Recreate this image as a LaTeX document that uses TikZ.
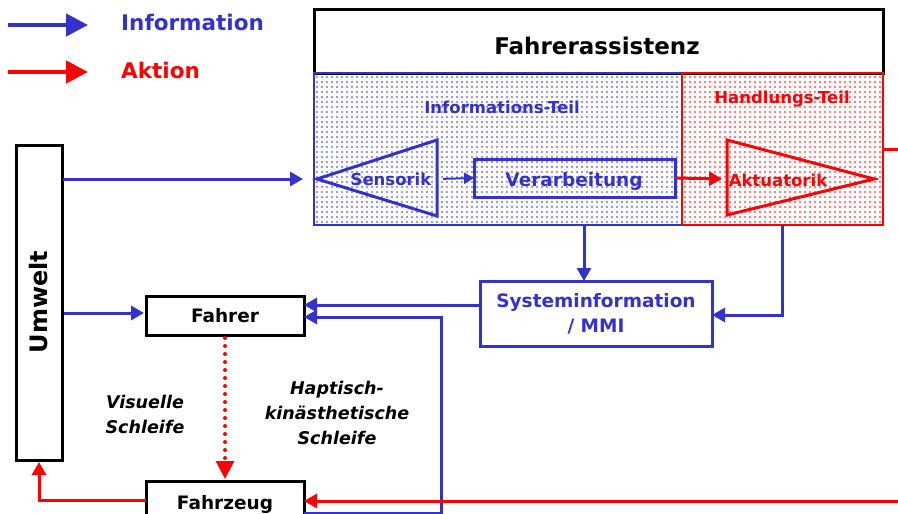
\documentclass[tikz,border=0pt]{standalone}
\usepackage{fontspec}
\setmainfont{DejaVu Sans}
\usetikzlibrary{arrows.meta,calc}
\definecolor{cblue}{RGB}{51,51,204}
\definecolor{cred}{RGB}{255,0,0}
\begin{document}
\begin{tikzpicture}[x=1pt,y=-1pt,
  box/.style={draw=black, line width=3pt, inner sep=0pt, outer sep=0pt, align=center,
    font=\fontsize{18.5}{25}\selectfont\bfseries},
  bluebox/.style={box, draw=cblue, text=cblue},
  part/.style={line width=2pt, inner sep=0pt, outer sep=0pt, anchor=north west},
  tri/.style={line width=3pt, line join=miter},
  infoarrow/.style={draw=cblue, line width=3pt, -{Triangle[length=13pt,width=14pt]}},
  actarrow/.style={draw=cred, line width=3pt, -{Triangle[length=13pt,width=14pt]}},
  actline/.style={draw=cred, line width=3pt},
  legarrow/.style={line width=4.5pt, -{Triangle[length=22pt,width=22pt]}},
  lbl/.style={inner sep=0pt, font=\fontsize{#1}{25}\selectfont\bfseries},
  ital/.style={inner sep=0pt, align=center, font=\fontsize{17.5}{25}\selectfont\bfseries\itshape}
]
\useasboundingbox (0,0) rectangle (898,514);
\clip (0,0) rectangle (898,514);
\fill[white] (0,0) rectangle (898,514);

% legend
\coordinate (lb1) at (8,25);
\coordinate (lb2) at (88,25);
\coordinate (lr1) at (8,72);
\coordinate (lr2) at (88,72);
\draw[legarrow, draw=cblue, fill=cblue] (lb1) -- (lb2);
\draw[legarrow, draw=cred, fill=cred] (lr1) -- (lr2);
\node[lbl=21.5, text=cblue, anchor=west] (legi) at (121,22) {Information};
\node[lbl=21.5, text=cred, anchor=west] (lega) at (121,70) {Aktion};

% dotted fills
\foreach \x in {317,322,...,680} \foreach \y in {77,82,...,223}
  \fill[cblue] (\x,\y) circle (0.85pt);
\foreach \x in {685,690,...,881} \foreach \y in {77,82,...,223}
  \fill[cred] (\x,\y) circle (0.85pt);

% Fahrerassistenz
\node[box, minimum width=569pt, minimum height=64pt] (assist) at (598.5,41) {};
\node[lbl=23] (assistlbl) at (597,46) {Fahrerassistenz};
\node[part, draw=cblue, minimum width=368pt, minimum height=152pt] (info) at (314,73) {};
\node[part, draw=cred, minimum width=201pt, minimum height=152pt] (hand) at (682,73) {};
\node[lbl=16.5, text=cblue] (infolbl) at (502,107) {Informations-Teil};
\node[lbl=16.5, text=cred] (handlbl) at (782,99) {Handlungs-Teil};

% Sensorik
\coordinate (sensA) at (317,179);
\coordinate (sensR) at (437,179);
\draw[tri, draw=cblue] (sensA) -- (437,140) -- (437,216) -- cycle;
\node[lbl=16.5, text=cblue] (sens) at (391,179) {Sensorik};

% Verarbeitung
\node[bluebox, minimum width=201pt, minimum height=38pt] (verarb) at (574.5,178) {};
\node[lbl=18.5, text=cblue] (verarblbl) at (574,181) {Verarbeitung};

% Aktuatorik
\coordinate (aktL) at (727,179);
\draw[tri, draw=cred] (727,140) -- (874,179) -- (727,215) -- cycle;
\node[lbl=16.5, text=cred] (akt) at (778,180) {Aktuatorik};

\draw[draw=cblue, line width=2pt, -{Triangle[length=10pt,width=11pt]}, shorten <=6pt] (sensR) -- (verarb.west);
\draw[actarrow, shorten >=5pt] (verarb.east) -- (aktL);

% Umwelt
\node[box, minimum width=46pt, minimum height=315pt] (umwelt) at (39,302.5) {};
\node[lbl=24, rotate=90] (umweltlbl) at (39,302) {Umwelt};

% Fahrer, Fahrzeug, Systeminfo
\node[box, minimum width=158pt, minimum height=39pt] (fahrer) at (225,315.5) {Fahrer};
\node[box, minimum width=158pt, minimum height=42pt] (fahrzeug) at (225,502) {};
\node[lbl=18.5] (fahrzeuglbl) at (225,504) {Fahrzeug};
\node[bluebox, minimum width=232pt, minimum height=65pt] (sys) at (596,313.5) {Systeminformation\\/ MMI};

\node[ital] (visu) at (145,414) {Visuelle\\Schleife};
\node[ital] (hapt) at (337,413) {Haptisch-\\kinästhetische\\Schleife};

\coordinate (redout) at (900,149);
\coordinate (redin) at (900,501);

% connectors
\draw[infoarrow, shorten <=1pt] (umwelt.east |- sensA) -- ([xshift=-11pt]info.west |- sensA);
\draw[infoarrow, shorten <=2pt, shorten >=2pt] ([yshift=2.5pt]umwelt.east |- fahrer.west) -- ([yshift=2.5pt]fahrer.west);
\draw[infoarrow] ([xshift=-12pt]sys.north |- info.south) -- ([xshift=-12pt]sys.north);
\draw[infoarrow] (hand.south) |- ([yshift=-1.5pt]sys.east);
\draw[infoarrow] ([yshift=8.5pt]sys.west) -- ([yshift=8.5pt]sys.west -| fahrer.east);
\draw[infoarrow] ([yshift=-11pt]fahrzeug.east) -- ++(137,0) |- ([yshift=-1.5pt]fahrer.east);
\draw[draw=cred, line width=4pt, line cap=round, dash pattern=on 0pt off 8pt, shorten >=18pt, shorten <=3pt] (fahrer.south) -- (fahrzeug.north);
\draw[draw=cred, line width=3pt, -{Triangle[length=18pt,width=18pt]}, shorten >=2pt] ([yshift=20pt]fahrzeug.north) -- (fahrzeug.north);
\draw[actarrow] ([yshift=2pt]fahrzeug.west) -| ([yshift=-2pt]umwelt.south);
\draw[actline] (hand.east) -- (redout);
\draw[actarrow] (redin) -- ([yshift=1pt]fahrzeug.east);
\end{tikzpicture}
\end{document}
